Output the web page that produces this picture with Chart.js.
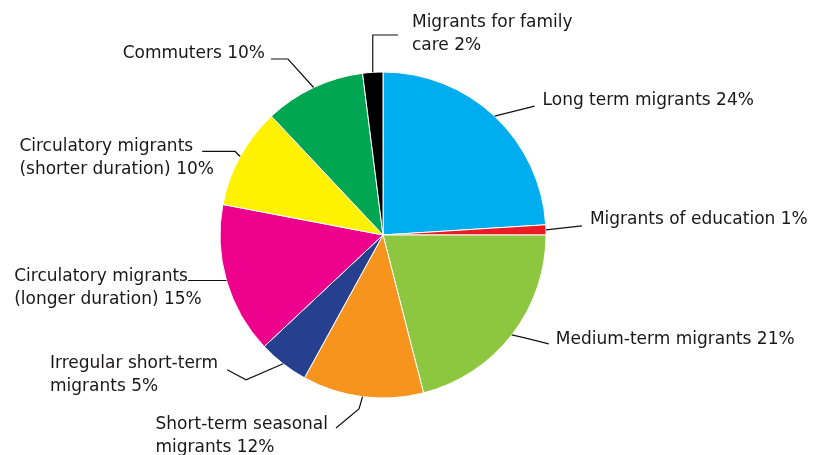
<!DOCTYPE html>
<html>
<head>
<meta charset="utf-8">
<script src="https://cdn.jsdelivr.net/npm/chart.js@4.4.0/dist/chart.umd.min.js"></script>
<style>
  body { margin: 0; background: #fff; }
</style>
</head>
<body>
<canvas id="myChart1" width="816" height="455"></canvas>
<script>
// data
const categories = [
  "Long term migrants",
  "Migrants of education",
  "Medium-term migrants",
  "Short-term seasonal\nmigrants",
  "Irregular short-term\nmigrants",
  "Circulatory migrants\n(longer duration)",
  "Circulatory migrants\n(shorter duration)",
  "Commuters",
  "Migrants for family\ncare"
];
const shares = [24, 1, 21, 12, 5, 15, 10, 10, 2];
const colours = ["#00aeef", "#ed1c24", "#8dc63f", "#f7941d", "#263f8f", "#ec008c", "#fff200", "#00a651", "#000000"];

// leader lines: steps from the slice edge (mid angle), then where the text sits
const leaderSteps = [
  [[40, -10]],
  [[36, -4]],
  [[13, 3], [24, 6]],
  [[-3.6, 12.3], [-23, 19]],
  [[-37, 16], [-19, -10]],
  [[-38.5, 0]],
  [[-5, -5], [-33, 0]],
  [[-25.6, -28.5], [-17, 0]],
  [[0, -37.3], [25.2, 0]]
];
// [side, gap, dy of first line]
const textPlace = [
  ["right", 8, -6],
  ["right", 8, -6],
  ["right", 7, -4],
  ["left", 8, -3],
  ["left", 9, -6],
  ["left", 0, -3.5],
  ["left", 9, -4.5],
  ["left", 6, -5],
  ["right", 14, -12]
];

const leaders = {
  id: "leaders",
  afterDraw(chart) {
    const ctx = chart.ctx
    const arcs = chart.getDatasetMeta(0).data
    ctx.save()
    ctx.font = "17px 'DejaVu Sans'"
    ctx.textBaseline = "middle"
    arcs.forEach((arc, i) => {
      const p = arc.getProps(["x", "y", "startAngle", "endAngle", "outerRadius"], true)
      const mid = (p.startAngle + p.endAngle) / 2
      let x = p.x + Math.cos(mid) * p.outerRadius
      let y = p.y + Math.sin(mid) * p.outerRadius
      ctx.beginPath()
      ctx.moveTo(x, y)
      leaderSteps[i].forEach(s => { x += s[0]; y += s[1]; ctx.lineTo(x, y) })
      ctx.strokeStyle = "#111"
      ctx.lineWidth = 1.2
      ctx.stroke()

      const lines = (categories[i] + " " + shares[i] + "%").split("\n")
      // left-side labels: first line ends next to the leader
      const w = ctx.measureText(lines[0]).width
      const t = textPlace[i]
      const tx = t[0] == "right" ? x + t[1] : x - t[1] - w
      ctx.fillStyle = "#1a1718"
      ctx.textAlign = "left"
      lines.forEach((l, k) => ctx.fillText(l, tx, y + t[2] + k * 23))
    })
    ctx.restore()
  }
}

new Chart(document.getElementById("myChart1"), {
  type: "pie",
  data: {
    labels: categories,
    datasets: [{
      data: shares,
      backgroundColor: colours,
      borderColor: "#ffffff",
      borderWidth: 1,
      hoverOffset: 0
    }]
  },
  options: {
    responsive: false,
    animation: false,
    radius: 163,
    layout: { padding: { left: 220, right: 270, top: 72, bottom: 57 } },
    plugins: {
      legend: { display: false },
      tooltip: { enabled: false }
    }
  },
  plugins: [leaders]
});
</script>
</body>
</html>
